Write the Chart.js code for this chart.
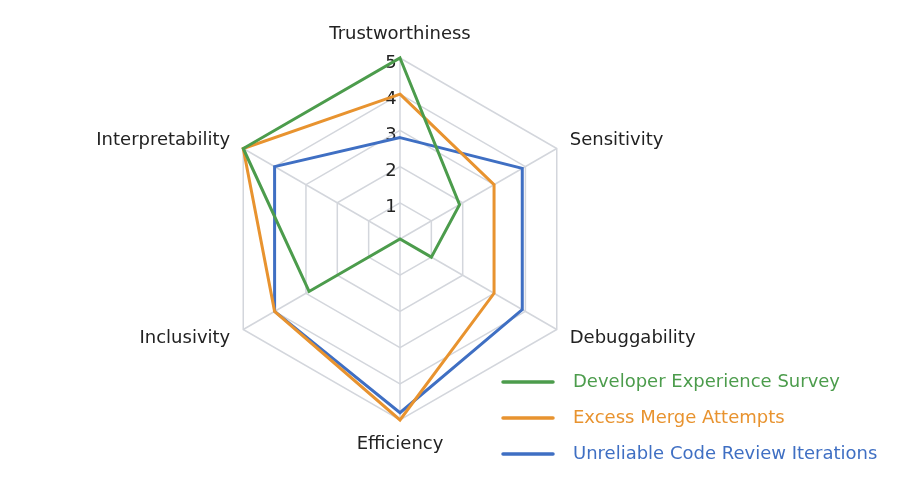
<!DOCTYPE html>
<html>
<head>
<meta charset="utf-8">
<script src="https://cdn.jsdelivr.net/npm/chart.js@4.4.1/dist/chart.umd.min.js"></script>
<style>
  html, body { margin: 0; padding: 0; background: #ffffff; }
  #wrap { width: 923px; height: 482px; position: relative; }
</style>
</head>
<body>
<div id="wrap"><canvas id="c" width="923" height="482"></canvas></div>
<script>
const categories = ['Trustworthiness', 'Sensitivity', 'Debuggability', 'Efficiency', 'Inclusivity', 'Interpretability'];
const seriesNames = ['Developer Experience Survey', 'Excess Merge Attempts', 'Unreliable Code Review Iterations'];
const developerSurvey = [5, 1.9, 1, 0, 2.9, 5];
const excessMerge = [4, 3, 3, 5, 4, 5];
const unreliableReview = [2.8, 3.9, 3.9, 4.8, 4, 4];
const seriesColors = ['#4c9c4c', '#e8932f', '#3f6fc3'];
const tickValues = [1, 2, 3, 4, 5];

const FONT = "'DejaVu Sans', sans-serif";
const seriesValues = [developerSurvey, excessMerge, unreliableReview];

const legendPlugin = {
  id: 'sideLegend',
  afterDraw(chart) {
    const ctx = chart.ctx;
    const x0 = 503, lineLen = 50, textX = 573, y0 = 382, step = 36;
    ctx.save();
    chart.data.datasets.forEach((ds, i) => {
      const y = y0 + i * step;
      ctx.strokeStyle = ds.borderColor;
      ctx.lineWidth = 3.5;
      ctx.lineCap = 'round';
      ctx.beginPath();
      ctx.moveTo(x0, y);
      ctx.lineTo(x0 + lineLen, y);
      ctx.stroke();
      ctx.fillStyle = ds.borderColor;
      ctx.font = "18px " + FONT;
      ctx.textAlign = 'left';
      ctx.textBaseline = 'middle';
      ctx.fillText(ds.label, textX, y);
    });
    ctx.restore();
  }
};

new Chart(document.getElementById('c'), {
  type: 'radar',
  data: {
    labels: categories,
    datasets: seriesNames.map((name, i) => ({
      label: name,
      data: seriesValues[i],
      borderColor: seriesColors[i],
      backgroundColor: 'rgba(0,0,0,0)',
      borderWidth: 3,
      fill: false,
      pointRadius: 0,
      pointHoverRadius: 0,
      tension: 0
    }))
  },
  options: {
    responsive: false,
    animation: false,
    layout: { padding: { top: 33, bottom: 36, left: 0, right: 123 } },
    plugins: {
      legend: { display: false },
      tooltip: { enabled: false }
    },
    scales: {
      r: {
        min: 0,
        max: 5,
        beginAtZero: true,
        ticks: {
          stepSize: 1,
          showLabelBackdrop: false,
          backdropPadding: 0,
          color: '#222222',
          font: { family: FONT, size: 18, lineHeight: '5px' },
          callback: (v) => tickValues.includes(v) ? ['', String(v) + '\u2003'] : ''
        },
        grid: { color: '#d3d6dc', lineWidth: 1.5, circular: false },
        angleLines: { color: '#d3d6dc', lineWidth: 1.5 },
        pointLabels: {
          color: '#222222',
          padding: (ctx) => (ctx.index === 0 || ctx.index === 3) ? 14 : 6,
          font: { family: FONT, size: 18, lineHeight: '2px' }
        }
      }
    }
  },
  plugins: [legendPlugin]
});
</script>
</body>
</html>
